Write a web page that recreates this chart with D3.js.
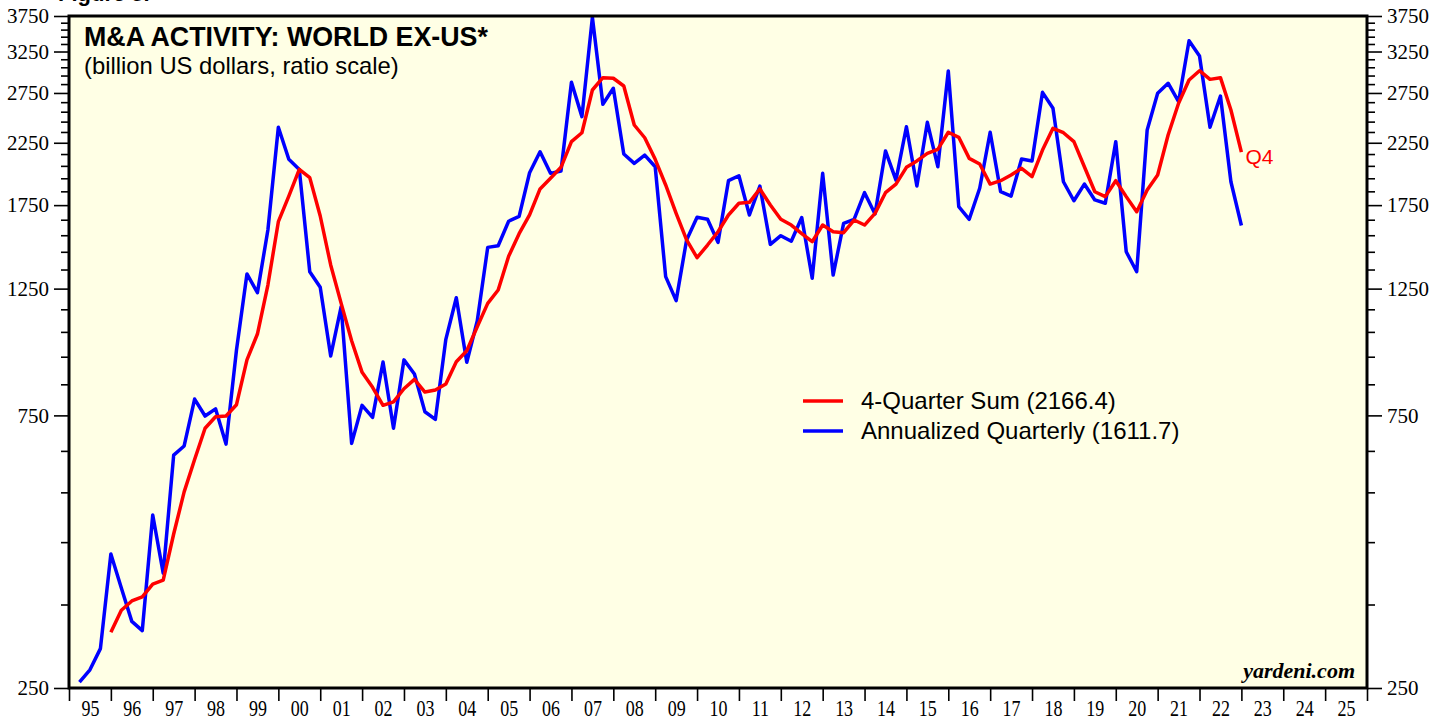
<!DOCTYPE html>
<html>
<head>
<meta charset="utf-8">
<script src="https://cdn.jsdelivr.net/npm/d3@7"></script>
<style>
  body { margin: 0; background: #fff; }
  .axis path.domain { display: none; }
  .axis line { stroke: #000; stroke-width: 1.6; }
  .axis text { font-family: "Liberation Serif", "Times New Roman", serif; fill: #000; }
</style>
</head>
<body>
<div id="target"></div>
<script>
// quarterly data, 1995Q1 .. 2022Q4 (billion US dollars)
let annualized = [
  256, 269, 293, 429,      // 1995
  374, 327, 315, 502,      // 1996
  397, 639, 663, 801,      // 1997
  748, 770, 668, 976,      // 1998
  1326, 1230, 1583, 2395,  // 1999
  2105, 2021, 1338, 1257,  // 2000
  953, 1162, 670, 781,     // 2001
  744, 930, 712, 938,      // 2002
  886, 761, 738, 1019,     // 2003
  1205, 929, 1097, 1476,   // 2004
  1486, 1640, 1672, 1994,  // 2005
  2170, 1989, 2008, 2871,  // 2006
  2500, 3730, 2627, 2803,  // 2007
  2150, 2071, 2141, 2043,  // 2008
  1312, 1191, 1521, 1666,  // 2009
  1653, 1506, 1931, 1970,  // 2010
  1682, 1890, 1494, 1547,  // 2011
  1513, 1665, 1303, 1989,  // 2012
  1320, 1626, 1653, 1840,  // 2013
  1689, 2177, 1936, 2400,  // 2014
  1890, 2443, 2043, 3005,  // 2015
  1739, 1653, 1873, 2347,  // 2016
  1847, 1815, 2108, 2091,  // 2017
  2757, 2585, 1923, 1781,  // 2018
  1905, 1787, 1763, 2260,  // 2019
  1450, 1338, 2369, 2747,  // 2020
  2860, 2655, 3395, 3192,  // 2021
  2395, 2716, 1923, 1612   // 2022
]
let fourQuarterSum = [
  null, null, null, 313,   // 1995
  342, 355, 361, 380,      // 1996
  386, 465, 551, 628,      // 1997
  712, 746, 748, 783,      // 1998
  938, 1041, 1268, 1637,   // 1999
  1815, 2021, 1955, 1675,  // 2000
  1375, 1178, 1013, 892,   // 2001
  840, 781, 792, 835,      // 2002
  867, 824, 831, 851,      // 2003
  931, 973, 1072, 1178,    // 2004
  1243, 1424, 1560, 1682,  // 2005
  1868, 1950, 2038, 2260,  // 2006
  2343, 2783, 2925, 2918,  // 2007
  2828, 2417, 2296, 2105,  // 2008
  1898, 1693, 1521, 1416,  // 2009
  1490, 1572, 1682, 1763,  // 2010
  1770, 1868, 1751, 1653,  // 2011
  1615, 1560, 1510, 1615,  // 2012
  1572, 1566, 1648, 1615,  // 2013
  1693, 1840, 1905, 2038,  // 2014
  2091, 2156, 2191, 2347,  // 2015
  2300, 2113, 2065, 1905,  // 2016
  1931, 1976, 2030, 1963,  // 2017
  2185, 2385, 2343, 2260,  // 2018
  2043, 1847, 1811, 1931,  // 2019
  1811, 1704, 1860, 1976,  // 2020
  2321, 2638, 2897, 3008,  // 2021
  2905, 2925, 2568, 2166   // 2022
]
let quarters = annualized.map((d, i) => (1995 + Math.floor(i / 4)) + "Q" + (i % 4 + 1))
let yearLabels = ["95", "96", "97", "98", "99", "00", "01", "02", "03", "04", "05",
  "06", "07", "08", "09", "10", "11", "12", "13", "14", "15", "16", "17", "18",
  "19", "20", "21", "22", "23", "24", "25"]
let majorTicks = [250, 750, 1250, 1750, 2250, 2750, 3250, 3750]
let minorTicks = [350, 450, 550, 650, 850, 950, 1050, 1150, 1350, 1450, 1550, 1650,
  1850, 1950, 2050, 2150, 2350, 2450, 2550, 2650, 2850, 2950, 3050, 3150,
  3350, 3450, 3550, 3650]
let seriesNames = ["4-Quarter Sum (2166.4)", "Annualized Quarterly (1611.7)"]
let seriesColors = ["#ff0000", "#0000ff"]

let width = 1446,
  height = 719,
  margin = { top: 16, right: 79, bottom: 31, left: 69 },
  plotW = width - margin.left - margin.right,
  plotH = height - margin.top - margin.bottom

let root = d3.select("#target").append("svg")
  .attr("width", width)
  .attr("height", height)

// bit of the figure caption that is cut off at the top
root.append("text")
  .attr("x", 58)
  .attr("y", 1)
  .style("font-family", "Liberation Sans, Arial, sans-serif")
  .style("font-weight", "bold")
  .style("font-size", "22px")
  .text("Figure 5.")

let svg = root.append("g")
  .attr("transform", "translate(" + margin.left + "," + margin.top + ")")

// quarter end as fractional year
function qTime(q) {
  let yr = +q.slice(0, 4), n = +q.slice(5)
  return yr + n / 4
}

let x = d3.scaleLinear().domain([1995, 2026]).range([0, plotW])
let y = d3.scaleLog().domain([250, 3750]).range([plotH, 0])

svg.append("rect")
  .attr("width", plotW)
  .attr("height", plotH)
  .attr("fill", "#ffffe5")

// y axes, left and right
svg.append("g").attr("class", "axis")
  .call(d3.axisLeft(y).tickValues(minorTicks).tickSize(8).tickFormat(""))
svg.append("g").attr("class", "axis")
  .call(d3.axisLeft(y).tickValues(majorTicks).tickSize(15).tickPadding(5).tickFormat(d3.format("d")))
  .selectAll("text").style("font-size", "21px")
svg.append("g").attr("class", "axis")
  .attr("transform", "translate(" + plotW + ",0)")
  .call(d3.axisRight(y).tickValues(minorTicks).tickSize(8).tickFormat(""))
svg.append("g").attr("class", "axis")
  .attr("transform", "translate(" + plotW + ",0)")
  .call(d3.axisRight(y).tickValues(majorTicks).tickSize(15).tickPadding(5).tickFormat(d3.format("d")))
  .selectAll("text").style("font-size", "21px")

// x axis: ticks at year starts, labels in the middle of each year
svg.append("g").attr("class", "axis")
  .attr("transform", "translate(0," + plotH + ")")
  .call(d3.axisBottom(x).tickValues(d3.range(1995, 2027)).tickSize(13).tickFormat(""))
svg.append("g").attr("class", "axis")
  .attr("transform", "translate(0," + plotH + ")")
  .call(d3.axisBottom(x).tickValues(d3.range(1995, 2026).map(d => d + 0.5)).tickSize(0)
    .tickFormat((d, i) => yearLabels[i]))
  .selectAll("text")
  .attr("y", 0).attr("dy", 0)
  .attr("transform", "translate(0,28) scale(1,1.25)")
  .style("font-size", "18px")

let line = d3.line()
  .defined(d => d.v != null)
  .x(d => x(d.t))
  .y(d => y(d.v))

let blueData = quarters.map((q, i) => ({ t: qTime(q), v: annualized[i] }))
let redData = quarters.map((q, i) => ({ t: qTime(q), v: fourQuarterSum[i] }))

svg.append("path")
  .datum(blueData)
  .attr("fill", "none")
  .attr("stroke", seriesColors[1])
  .attr("stroke-width", 3.5)
  .attr("stroke-linejoin", "round")
  .attr("d", line)

svg.append("path")
  .datum(redData)
  .attr("fill", "none")
  .attr("stroke", seriesColors[0])
  .attr("stroke-width", 3.5)
  .attr("stroke-linejoin", "round")
  .attr("d", line)

// frame
svg.append("rect")
  .attr("width", plotW)
  .attr("height", plotH)
  .attr("fill", "none")
  .attr("stroke", "#000")
  .attr("stroke-width", 3)

// titles
svg.append("text")
  .attr("x", 15).attr("y", 30)
  .style("font-family", "Liberation Sans, Arial, sans-serif")
  .style("font-weight", "bold")
  .style("font-size", "26.8px")
  .text("M&A ACTIVITY: WORLD EX-US*")
svg.append("text")
  .attr("x", 15).attr("y", 58)
  .style("font-family", "Liberation Sans, Arial, sans-serif")
  .style("font-size", "23.8px")
  .text("(billion US dollars, ratio scale)")

// legend
let legend = svg.append("g").attr("transform", "translate(734,385)")
seriesNames.forEach((name, i) => {
  legend.append("line")
    .attr("x1", 0).attr("x2", 40)
    .attr("y1", i * 30).attr("y2", i * 30)
    .attr("stroke", seriesColors[i])
    .attr("stroke-width", 3.5)
  legend.append("text")
    .attr("x", 58).attr("y", i * 30 + 8)
    .style("font-family", "Liberation Sans, Arial, sans-serif")
    .style("font-size", "24px")
    .text(name)
})

// last-point label
let last = redData[redData.length - 1]
svg.append("text")
  .attr("x", x(last.t) + 4)
  .attr("y", y(last.v) + 12)
  .attr("fill", "#ff0000")
  .style("font-family", "Liberation Sans, Arial, sans-serif")
  .style("font-size", "21px")
  .text("Q4")

svg.append("text")
  .attr("x", plotW - 12)
  .attr("y", plotH - 10)
  .attr("text-anchor", "end")
  .style("font-family", "Liberation Serif, Times New Roman, serif")
  .style("font-weight", "bold")
  .style("font-style", "italic")
  .style("font-size", "22px")
  .text("yardeni.com")
</script>
</body>
</html>
